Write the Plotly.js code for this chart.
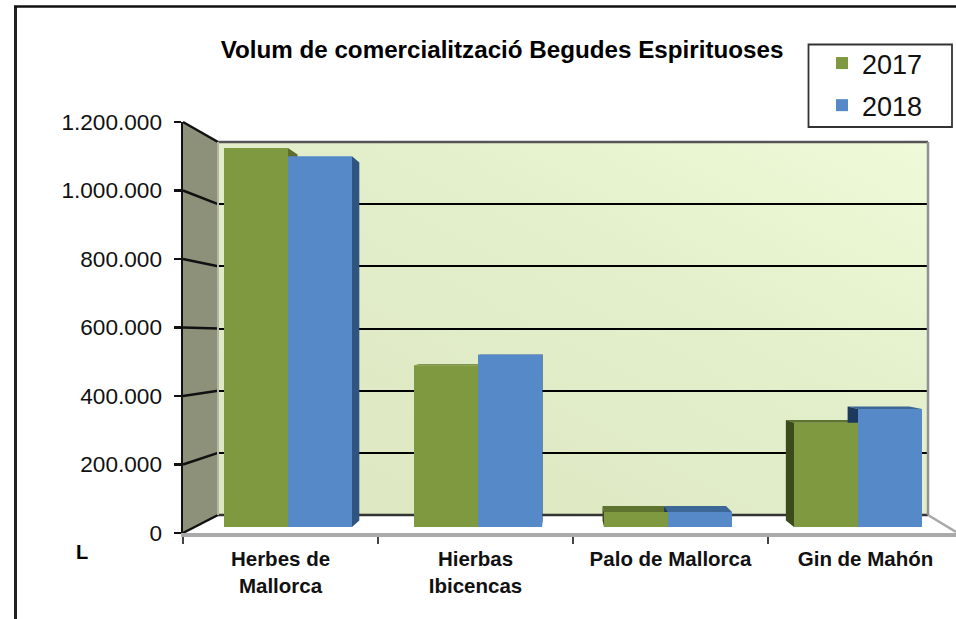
<!DOCTYPE html>
<html><head><meta charset="utf-8">
<script src="https://cdn.plot.ly/plotly-3.0.1.min.js"></script>
<style>html,body{margin:0;padding:0;background:#fff;overflow:hidden}</style>
</head><body><div id="chart" style="width:956px;height:619px"></div>
<script>
const categories = ['Herbes de<br>Mallorca', 'Hierbas<br>Ibicencas', 'Palo de Mallorca', 'Gin de Mahón'];
const seriesNames = ['2017', '2018'];
const values2017 = [1143000, 488000, 45000, 314000];
const values2018 = [1118000, 519000, 45000, 356000];
const yTicks = [0, 200000, 400000, 600000, 800000, 1000000, 1200000];
const colors = ['#7e993f', '#5589c8'];
const faceColors = {top: ['#5f7330', '#3d6797'], side: ['#5f6e2c', '#2f5480'], left: ['#3d4a1b', '#1d3a5e']};

const W = 956, H = 619, YMAX = 1200000;
const fx = p => p / W, fy = p => 1 - p / H;

// perspective of the Excel-style 3D box (pixels)
const V = {x: 561, y: 338}, K = 0.035;
const axisPx = {x: 183, y0: 533, y1: 122};
const wallPx = {x0: 218, x1: 928, y0: 515, y1: 142};
const barPx = {y0: 527, y1: 129, x0: 288, step: 190, w: 64};
const axisY = v => axisPx.y0 - v / YMAX * (axisPx.y0 - axisPx.y1);
const wallY = v => wallPx.y0 - v / YMAX * (wallPx.y0 - wallPx.y1);

// conversion for the bar plane's own axes (x3 / y3)
const ux = p => (p - barPx.x0) / barPx.step;
const uy = p => (barPx.y0 - p) / (barPx.y0 - barPx.y1) * YMAX;
const px = u => barPx.x0 + u * barPx.step;
const py = v => barPx.y0 - v / YMAX * (barPx.y0 - barPx.y1);

const shapes = [];
const poly = (pts, fill, extra) => shapes.push(Object.assign({
  type: 'path', xref: 'paper', yref: 'paper', layer: 'below',
  path: 'M' + pts.map(p => fx(p[0]) + ',' + fy(p[1])).join('L') + 'Z',
  fillcolor: fill, line: {width: 0}}, extra || {}));
const seg = (x0, y0, x1, y1, color, width, layer) => shapes.push({
  type: 'line', xref: 'paper', yref: 'paper', layer: layer || 'below',
  x0: fx(x0), y0: fy(y0), x1: fx(x1), y1: fy(y1), line: {color, width}});

// side wall and floor
poly([[axisPx.x, axisPx.y1], [wallPx.x0, wallPx.y1], [wallPx.x0, wallPx.y0], [axisPx.x, axisPx.y0]], '#8d917a');
poly([[axisPx.x, axisPx.y0], [wallPx.x0, wallPx.y0], [wallPx.x1, wallPx.y0], [956, 532], [956, axisPx.y0]], '#ffffff');
yTicks.forEach(v => seg(axisPx.x, axisY(v), wallPx.x0, wallY(v), '#111', 2.5));
seg(wallPx.x0, wallPx.y1, wallPx.x1, wallPx.y1, '#555', 2.5);
seg(wallPx.x0, wallPx.y0, wallPx.x1, wallPx.y0, '#333', 2.5);
seg(wallPx.x1, wallPx.y1, wallPx.x1, wallPx.y0, '#929292', 2.5, 'above');
seg(wallPx.x0, wallPx.y1, wallPx.x0, wallPx.y0, '#b4b4a8', 2, 'above');
seg(wallPx.x1, wallPx.y0, 956, 532, '#a8a8a8', 2.5);
// outer frame of the picture
seg(15.5, 6, 15.5, H, '#222', 3, 'above');
seg(14, 6.5, W, 6.5, '#111', 2.5, 'above');
// legend frame
shapes.push({type: 'rect', xref: 'paper', yref: 'paper', layer: 'below',
  x0: fx(808.5), x1: fx(952), y0: fy(127), y1: fy(44.5), fillcolor: '#fff', line: {color: '#333', width: 1.8}});

// depth faces of each bar, in the bar plane's data units
const back = (x, y) => [x + (V.x - x) * K, y + (V.y - y) * K];
const dataFace = (pts, fill) => shapes.push({
  type: 'path', xref: 'x3', yref: 'y3', layer: 'below',
  path: 'M' + pts.map(p => ux(p[0]) + ',' + uy(p[1])).join('L') + 'Z',
  fillcolor: fill, line: {width: 0}});
[values2017, values2018].forEach((vals, s) => {
  vals.forEach((v, i) => {
    const c = px(i);
    const a = s === 0 ? c - barPx.w : c, b = s === 0 ? c : c + barPx.w;
    const t = py(v), z = barPx.y0;
    if (t > V.y) dataFace([[a, t], [b, t], back(b, t), back(a, t)], faceColors.top[s]);
    if (a > V.x) dataFace([[a, t], [a, z], back(a, z), back(a, t)], faceColors.left[s]);
    if (b < V.x) dataFace([[b, t], [b, z], back(b, z), back(b, t)], faceColors.side[s]);
  });
});

const wallSvg = '<svg xmlns="http://www.w3.org/2000/svg" width="710" height="373">' +
  '<defs><linearGradient id="g" x1="0" y1="1" x2="1" y2="0">' +
  '<stop offset="0" stop-color="#dce7c0"/><stop offset="0.6" stop-color="#e3eecb"/><stop offset="1" stop-color="#effbd8"/>' +
  '</linearGradient></defs><rect width="710" height="373" fill="url(#g)"/></svg>';

const idx = categories.map((_, i) => i);
const traces = [
  {type: 'scatter', mode: 'lines', x: [0, 1], y: [null, null], xaxis: 'x', yaxis: 'y', showlegend: false, hoverinfo: 'skip'},
  {type: 'scatter', mode: 'lines', x: categories, y: categories.map(() => null), xaxis: 'x2', yaxis: 'y2', showlegend: false, hoverinfo: 'skip'},
  {type: 'bar', name: seriesNames[0], x: idx, y: values2017, xaxis: 'x3', yaxis: 'y3', marker: {color: colors[0], line: {width: 0}}, legendgroup: 'a'},
  {type: 'bar', name: seriesNames[1], x: idx, y: values2018, xaxis: 'x3', yaxis: 'y3', marker: {color: colors[1], line: {width: 0}}, legendgroup: 'b'}
];

const layout = {
  width: W, height: H, margin: {l: 0, r: 0, t: 0, b: 0},
  paper_bgcolor: '#fff', plot_bgcolor: 'rgba(0,0,0,0)',
  separators: ',.',
  font: {family: '"Liberation Sans", Arial, sans-serif', color: '#000'},
  title: {text: '<b>Volum de comercialització Begudes Espirituoses</b>', xref: 'paper', yref: 'paper',
    x: fx(502), xanchor: 'center', y: fy(50), yanchor: 'middle', font: {size: 24.2, color: '#000'}},
  barmode: 'group', bargap: 1 - 2 * barPx.w / barPx.step, bargroupgap: 0,
  // back wall gridlines
  xaxis: {domain: [fx(wallPx.x0), fx(wallPx.x1)], range: [0, 1], visible: false, fixedrange: true, anchor: 'y'},
  yaxis: {domain: [fy(wallPx.y0), fy(wallPx.y1)], range: [0, YMAX], tickvals: yTicks, showticklabels: false, ticks: '',
    showgrid: true, gridcolor: '#000', gridwidth: 2, zeroline: false, showline: false, anchor: 'x'},
  // visible axes on the front edge
  xaxis2: {domain: [fx(axisPx.x), 1], type: 'category', categoryorder: 'array', categoryarray: categories,
    range: [-0.5, (956 - axisPx.x) / 195 - 0.5], tickson: 'boundaries', ticks: 'outside', ticklen: 7, tickwidth: 1.5, tickcolor: '#444',
    ticklabelstandoff: 5, showgrid: false, zeroline: false, showline: true, linecolor: '#aaaaaa', linewidth: 3.5, anchor: 'y2',
    tickfont: {size: 20.5, color: '#111', weight: 'bold'}},
  yaxis2: {domain: [fy(axisPx.y0), fy(axisPx.y1)], range: [0, YMAX], tickvals: yTicks, tickformat: ',d',
    ticks: 'outside', ticklen: 7, tickwidth: 2.5, tickcolor: '#111', ticklabelstandoff: 7, showgrid: false, zeroline: false,
    showline: true, linecolor: '#111', linewidth: 2.5, anchor: 'x2', tickfont: {size: 22.6, color: '#111'}},
  // bars
  xaxis3: {domain: [fx(axisPx.x), 1], range: [ux(axisPx.x), ux(956)], visible: false, anchor: 'y3'},
  yaxis3: {domain: [fy(barPx.y0), fy(barPx.y1)], range: [0, YMAX], visible: false, anchor: 'x3'},
  legend: {x: fx(807), y: fy(39), xanchor: 'left', yanchor: 'top', bgcolor: 'rgba(0,0,0,0)', borderwidth: 0,
    font: {size: 27, color: '#111'}, traceorder: 'grouped', tracegroupgap: 4, indentation: 15, itemwidth: 30, itemclick: false},
  images: [{source: 'data:image/svg+xml;base64,' + btoa(wallSvg), xref: 'paper', yref: 'paper',
    x: fx(wallPx.x0), y: fy(wallPx.y1), sizex: (wallPx.x1 - wallPx.x0) / W, sizey: (wallPx.y0 - wallPx.y1) / H,
    xanchor: 'left', yanchor: 'top', sizing: 'stretch', layer: 'below'}],
  annotations: [{text: '<b>L</b>', xref: 'paper', yref: 'paper', x: fx(82), y: fy(552), xanchor: 'center', yanchor: 'middle',
    showarrow: false, font: {size: 20, color: '#000'}}],
  shapes: shapes
};
Plotly.newPlot('chart', traces, layout, {displayModeBar: false, staticPlot: true});
</script></body></html>
